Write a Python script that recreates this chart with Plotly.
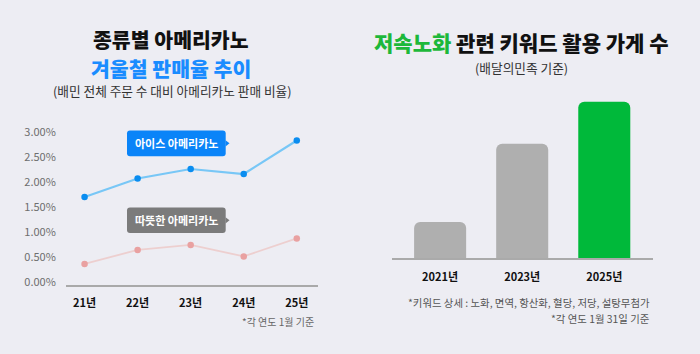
import plotly.graph_objects as go

# ---------------- data ----------------
years_short = ["21년", "22년", "23년", "24년", "25년"]
ice_americano = [1.70, 2.07, 2.26, 2.16, 2.83]
hot_americano = [0.36, 0.64, 0.74, 0.51, 0.87]
y_ticks = [0, 0.5, 1.0, 1.5, 2.0, 2.5, 3.0]
y_tick_labels = ["0.00%", "0.50%", "1.00%", "1.50%", "2.00%", "2.50%", "3.00%"]

bar_years = ["2021년", "2023년", "2025년"]
bar_values = [37, 117, 160]
bar_colors = ["#AFAFAF", "#AFAFAF", "#00B93A"]

# ---------------- helpers ----------------
W, H = 700, 354
FONT = "Noto Sans CJK KR"
BG = "#EDEDF3"


def px(x):
    return x / W


def py(y):
    return 1 - y / H


def rounded_rect(x0, y0, x1, y1, r=3):
    rx, ry = r / W, r / H
    X0, X1 = px(x0), px(x1)
    Y0, Y1 = py(y0), py(y1)
    return (f"M {X0+rx} {Y0} L {X1-rx} {Y0} Q {X1} {Y0} {X1} {Y0-ry} "
            f"L {X1} {Y1+ry} Q {X1} {Y1} {X1-rx} {Y1} "
            f"L {X0+rx} {Y1} Q {X0} {Y1} {X0} {Y1+ry} "
            f"L {X0} {Y0-ry} Q {X0} {Y0} {X0+rx} {Y0} Z")


def triangle(x, yc, w=4, h=3.2):
    return (f"M {px(x)} {py(yc-h)} L {px(x+w)} {py(yc)} L {px(x)} {py(yc+h)} Z")


fig = go.Figure()

fig.add_trace(go.Scatter(
    x=years_short, y=hot_americano, mode="lines+markers",
    line=dict(color="#EDCFCF", width=1.8),
    marker=dict(color="#E9A1A1", size=6.5),
    xaxis="x", yaxis="y", hoverinfo="skip", showlegend=False))
fig.add_trace(go.Scatter(
    x=years_short, y=ice_americano, mode="lines+markers",
    line=dict(color="#78C7F6", width=2.2),
    marker=dict(color="#0A8DF0", size=6.5),
    xaxis="x", yaxis="y", hoverinfo="skip", showlegend=False))

fig.add_trace(go.Bar(
    x=bar_years, y=bar_values, width=0.634,
    marker=dict(color=bar_colors, cornerradius=6, line=dict(width=0)),
    xaxis="x2", yaxis="y2", hoverinfo="skip", showlegend=False))

shapes = [
    dict(type="path", xref="paper", yref="paper",
         path=rounded_rect(127, 129.3, 225.7, 155.7), fillcolor="#0A84F8", line=dict(width=0)),
    dict(type="path", xref="paper", yref="paper",
         path=triangle(225.5, 142.5), fillcolor="#0A84F8", line=dict(width=0)),
    dict(type="path", xref="paper", yref="paper",
         path=rounded_rect(127, 208.3, 225.7, 234.3), fillcolor="#7B7B7B", line=dict(width=0)),
    dict(type="path", xref="paper", yref="paper",
         path=triangle(225.5, 221.3), fillcolor="#7B7B7B", line=dict(width=0)),
]


def ann(text, x, y, size, color, xanchor="center", weight="normal"):
    return dict(text=text, x=px(x), y=py(y), xref="paper", yref="paper",
                xanchor=xanchor, yanchor="middle", showarrow=False,
                font=dict(family=FONT, size=size, color=color, weight=weight))


annotations = [
    ann("종류별 아메리카노", 171, 36, 20.5, "#111111", weight=900),
    ann("겨울철 판매율 추이", 171, 65, 20.5, "#1A8CFF", weight=900),
    ann("(배민 전체 주문 수 대비 아메리카노 판매 비율)", 172, 88, 12.7, "#333333"),
    ann("<span style='color:#1DB83A'>저속노화</span> 관련 키워드 활용 가게 수", 521, 39, 21, "#111111", weight=900),
    ann("(배달의민족 기준)", 521, 65, 12.7, "#333333"),
    ann("아이스 아메리카노", 176.3, 142.5, 11, "#FFFFFF", weight=600),
    ann("따뜻한 아메리카노", 176.3, 221.3, 11, "#FFFFFF", weight=600),
    ann("*각 연도 1월 기준", 316, 325, 10, "#666666", xanchor="right"),
    ann("*키워드 상세 : 노화, 면역, 항산화, 혈당, 저당, 설탕무첨가", 652, 305.7, 10.4, "#555555", xanchor="right"),
    ann("*각 연도 1월 31일 기준", 652, 322, 10.4, "#555555", xanchor="right"),
]

fig.update_layout(
    width=W, height=H,
    margin=dict(l=0, r=0, t=0, b=0),
    paper_bgcolor=BG, plot_bgcolor=BG,
    font=dict(family=FONT),
    shapes=shapes, annotations=annotations,
    xaxis=dict(domain=[px(66), px(318)], range=[-0.35, 4.4],
               showline=True, linecolor="#A9A9A9", linewidth=1.5,
               showgrid=False, zeroline=False, fixedrange=True,
               ticks="outside", ticklen=7, tickcolor="rgba(0,0,0,0)",
               tickfont=dict(family=FONT, size=11, color="#111111", weight="bold")),
    yaxis=dict(domain=[py(287.3), py(125.9)], range=[-0.0587, 3.1],
               tickmode="array", tickvals=y_ticks, ticktext=y_tick_labels,
               showgrid=False, zeroline=False, showline=False, fixedrange=True,
               ticks="outside", ticklen=7, tickcolor="rgba(0,0,0,0)",
               tickfont=dict(family=FONT, size=11, color="#6E6E6E")),
    xaxis2=dict(domain=[px(391.7), px(652.7)], range=[-0.59, 2.59],
                anchor="y2",
                showline=True, linecolor="#AAAAAA", linewidth=1.5,
                showgrid=False, zeroline=False, fixedrange=True,
                ticks="outside", ticklen=8, tickcolor="rgba(0,0,0,0)",
                tickfont=dict(family=FONT, size=11, color="#111111", weight="bold")),
    yaxis2=dict(domain=[py(260), py(90)], range=[0, 170], anchor="x2",
                visible=False, fixedrange=True),
)

fig.write_html("out.html")
